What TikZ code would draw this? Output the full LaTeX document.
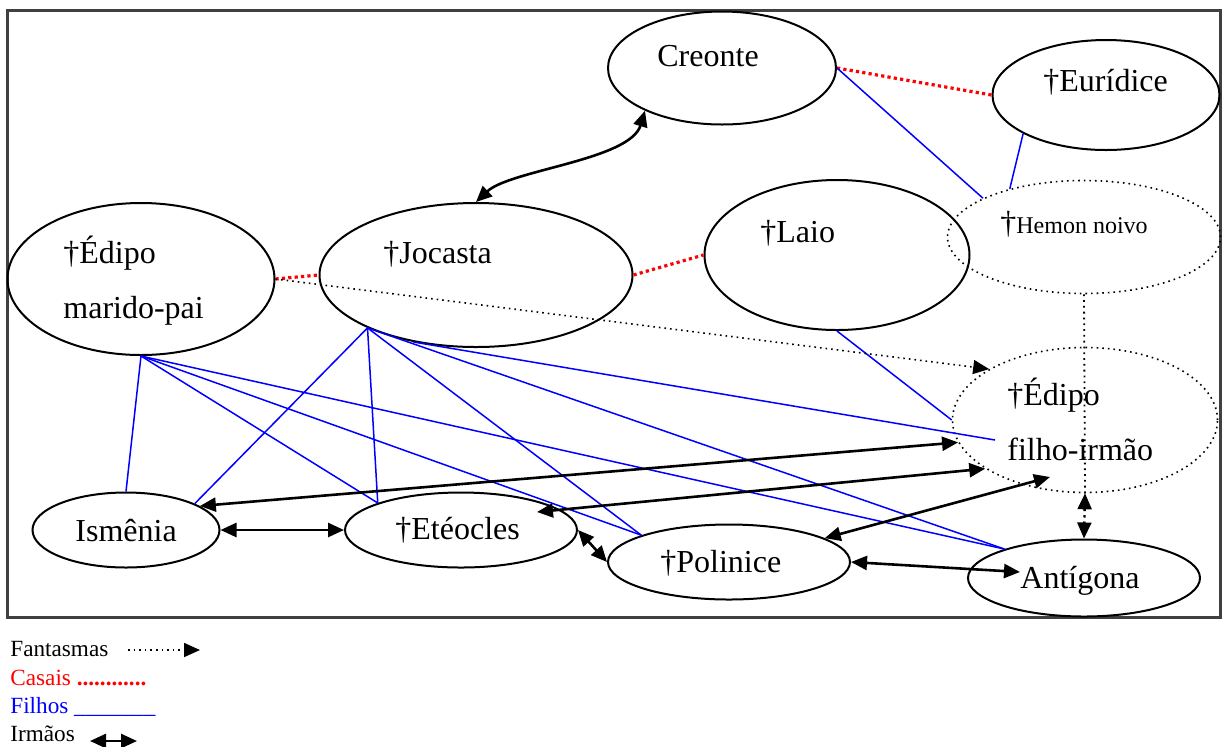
\documentclass[tikz,border=0pt]{standalone}
\usepackage{fontspec}
\setmainfont{Liberation Serif}
\usetikzlibrary{arrows.meta, positioning, shapes.geometric, calc}

\begin{document}
\begin{tikzpicture}[
    x=0.5pt, y=-0.5pt,
    pessoa/.style={draw, line width=1pt, ellipse, inner sep=0pt},
    sombra/.style={draw, dotted, line width=0.8pt, ellipse, inner sep=0pt},
    nome/.style={anchor=base west, inner sep=0pt, font=\fontsize{16}{19}\selectfont},
    filho/.style={blue, line width=0.75pt},
    casal/.style={red, line width=1.6pt, dash pattern=on 1.6pt off 1.6pt},
    fantasma/.style={dotted, line width=0.8pt, -{Triangle[length=8pt, width=7pt]}},
    irmao/.style={line width=1.3pt, {Triangle[length=8pt, width=7pt]}-{Triangle[length=8pt, width=7pt]}},
    legenda/.style={anchor=base west, inner sep=0pt, font=\fontsize{11.6}{14}\selectfont},
    ]
    \useasboundingbox (0,0) rectangle (1222,746);

    % frame
    \draw[line width=1.5pt, black!75] (7,10) rectangle (1220,617);

    % persons (ellipses)
    \node[pessoa, minimum width=114pt, minimum height=56.5pt] (creonte) at (722,68) {};
    \node[pessoa, minimum width=113.5pt, minimum height=55pt] (euridice) at (1106,95) {};
    \node[pessoa, minimum width=132.5pt, minimum height=75pt] (laio) at (837,255) {};
    \node[sombra, minimum width=136.5pt, minimum height=56.5pt] (hemon) at (1084,237) {};
    \node[pessoa, minimum width=133.5pt, minimum height=76pt] (edipomp) at (141,279) {};
    \node[pessoa, minimum width=156.5pt, minimum height=72pt] (jocasta) at (476,275) {};
    \node[sombra, minimum width=132.5pt, minimum height=72.5pt] (edipofi) at (1085,420) {};
    \node[pessoa, minimum width=93.5pt, minimum height=37.5pt] (ismenia) at (126,530) {};
    \node[pessoa, minimum width=116pt, minimum height=37.5pt] (eteocles) at (461,530) {};
    \node[pessoa, minimum width=121pt, minimum height=37.5pt] (polinice) at (729,562) {};
    \node[pessoa, minimum width=116pt, minimum height=38.5pt] (antigona) at (1084,578) {};

    % names
    \node[nome] (creonte-t) at (657,66) {Creonte};
    \node[nome] (euridice-t) at (1043,91) {†Eurídice};
    \node[nome] (laio-t) at (760,242) {†Laio};
    \node[nome, font=\fontsize{12}{14}\selectfont] (hemon-t) at (1000,233) {{\fontsize{16}{19}\selectfont †}Hemon noivo};
    \node[nome] (edipomp-t1) at (63,263) {†Édipo};
    \node[nome] (edipomp-t2) at (63,318) {marido-pai};
    \node[nome] (jocasta-t) at (383,263) {†Jocasta};
    \node[nome] (edipofi-t1) at (1007,405) {†Édipo};
    \node[nome] (edipofi-t2) at (1007,460) {filho-irmão};
    \node[nome] (ismenia-t) at (75,541) {Ismênia};
    \node[nome] (eteocles-t) at (395,539) {†Etéocles};
    \node[nome] (polinice-t) at (660,572) {†Polinice};
    \node[nome] (antigona-t) at (1020,588) {Antígona};

    % Casais
    \draw[casal] (edipomp.east) -- (jocasta.west);
    \draw[casal] (jocasta.east) -- (laio.west);
    \draw[casal] (creonte.east) -- (euridice.west);

    % Filhos
    \draw[filho] (edipomp.south) -- (ismenia.north);
    \draw[filho] (edipomp.south) -- (eteocles.162);
    \draw[filho] (edipomp.south) -- (polinice.163);
    \draw[filho] (edipomp.south) -- (antigona.160);
    \draw[filho] (jocasta.-154.5) -- (ismenia.21);
    \draw[filho] (jocasta.-154.5) -- (eteocles.162);
    \draw[filho] (jocasta.-154.5) -- (polinice.163);
    \draw[filho] (jocasta.-154.5) -- (antigona.160);
    \draw[filho] (jocasta.-133) -- ($(edipofi.center)+(-90,20)$);
    \draw[filho] (laio.south) -- (edipofi.west);
    \draw[filho] (creonte.east) -- (hemon.159);
    \draw[filho] (euridice.-155) -- (hemon.147);

    % Fantasmas
    \draw[fantasma] (edipomp.east) -- (edipofi.152);
    \draw[dotted, line width=0.9pt] (hemon.south) -- (edipofi.south);
    \draw[fantasma, line width=1.2pt, {Triangle[length=8pt, width=7pt]}-{Triangle[length=8pt, width=7pt]}] (edipofi.south) -- (antigona.north);

    % Irmaos
    \draw[irmao] (jocasta.north) .. controls (510,170) and (630,160) .. (creonte.-151);
    \draw[irmao] (ismenia.east) -- (eteocles.west);
    \draw[irmao] (eteocles.east) -- (polinice.west);
    \draw[irmao] (polinice.east) -- ($(antigona.center)+(-64,-6)$);
    \draw[irmao] (ismenia.18) -- (edipofi.-170);
    \draw[irmao] ($(eteocles.center)+(76,-18)$) -- (edipofi.-154);
    \draw[irmao] (polinice.14) -- ($(edipofi.center)+(-35,57)$);

    % legend
    \node[legenda] (fant) at (10,656) {Fantasmas};
    \coordinate (fant-a) at (128,650);
    \coordinate (fant-b) at (200,650);
    \draw[fantasma] (fant-a) -- (fant-b);
    \node[legenda, red] (casais) at (10,685) {Casais \textbf{............}};
    \node[legenda, blue] (filhos) at (10,713) {Filhos \_\_\_\_\_\_\_};
    \node[legenda] (irmaos) at (10,741) {Irmãos};
    \coordinate (irm-a) at (90,741);
    \coordinate (irm-b) at (137,741);
    \draw[irmao] (irm-a) -- (irm-b);
\end{tikzpicture}
\end{document}
